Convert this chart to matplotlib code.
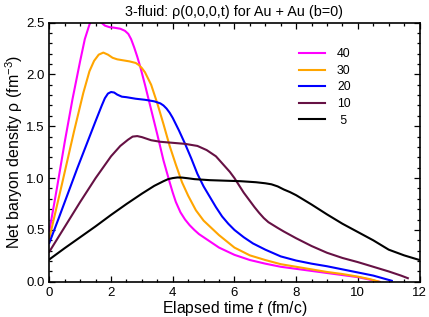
import matplotlib
matplotlib.use('Agg')
import matplotlib.pyplot as plt
from matplotlib.ticker import MultipleLocator

plt.rcParams['font.family'] = ['Liberation Sans', 'DejaVu Sans']
plt.rcParams['mathtext.fontset'] = 'custom'
plt.rcParams['mathtext.rm'] = 'Liberation Sans'
plt.rcParams['mathtext.it'] = 'Liberation Sans:italic'

# DATA
t_40 = [0, 0.25, 0.5, 0.75, 1.0, 1.15, 1.3, 1.42, 1.55, 1.68, 1.8, 1.95, 2.1,
        2.3, 2.45, 2.56, 2.65, 2.75, 2.85, 2.95, 3.1, 3.3, 3.5, 3.7, 3.9, 4.0,
        4.1, 4.25, 4.4, 4.55, 4.7, 4.85, 5.0, 5.5, 6.0, 6.5, 7.0, 7.5, 8.0, 8.5,
        9.0, 9.5, 10.0, 10.4, 10.7]
rho_40 = [0.49, 0.91, 1.35, 1.76, 2.13, 2.34, 2.48, 2.55, 2.56, 2.50, 2.47, 2.455,
          2.45, 2.44, 2.42, 2.39, 2.34, 2.26, 2.17, 2.07, 1.90, 1.66, 1.42, 1.17,
          0.96, 0.86, 0.77, 0.67, 0.60, 0.545, 0.50, 0.46, 0.43, 0.33, 0.26, 0.21,
          0.175, 0.145, 0.125, 0.105, 0.085, 0.065, 0.045, 0.02, 0.0]

t_30 = [0, 0.4, 0.8, 1.1, 1.3, 1.45, 1.6, 1.75, 1.9, 2.05, 2.2, 2.4, 2.6, 2.8,
        2.9, 3.0, 3.1, 3.2, 3.3, 3.5, 3.7, 3.9, 4.1, 4.3, 4.5, 4.75, 5.0, 5.25,
        5.5, 5.75, 6.0, 6.5, 7.0, 7.5, 8.0, 8.5, 9.0, 9.5, 10.0, 10.4, 10.7]
rho_30 = [0.42, 0.93, 1.45, 1.82, 2.03, 2.13, 2.19, 2.21, 2.19, 2.16, 2.145, 2.135,
          2.125, 2.11, 2.09, 2.06, 2.02, 1.96, 1.90, 1.72, 1.52, 1.31, 1.13, 0.96,
          0.83, 0.69, 0.59, 0.52, 0.45, 0.39, 0.33, 0.255, 0.21, 0.17, 0.145, 0.12,
          0.095, 0.075, 0.05, 0.025, 0.0]

t_20 = [0, 0.3, 0.6, 0.9, 1.2, 1.5, 1.7, 1.8, 1.9, 2.0, 2.1, 2.2, 2.35, 2.5,
        2.8, 3.1, 3.4, 3.6, 3.7, 3.8, 3.9, 4.0, 4.1, 4.2, 4.4, 4.6, 4.8, 5.0,
        5.2, 5.4, 5.6, 5.8, 6.0, 6.3, 6.6, 7.0, 7.5, 8.0, 8.5, 9.0, 9.5, 10.0,
        10.5, 10.8, 11.1]
rho_20 = [0.375, 0.61, 0.85, 1.09, 1.32, 1.55, 1.70, 1.77, 1.815, 1.83, 1.825,
          1.805, 1.785, 1.78, 1.765, 1.755, 1.74, 1.72, 1.70, 1.67, 1.63, 1.58,
          1.52, 1.46, 1.33, 1.19, 1.04, 0.92, 0.82, 0.72, 0.63, 0.56, 0.50, 0.43,
          0.37, 0.31, 0.245, 0.205, 0.175, 0.15, 0.12, 0.09, 0.06, 0.035, 0.01]

t_10 = [0, 0.5, 1.0, 1.5, 2.0, 2.3, 2.55, 2.7, 2.85, 3.0, 3.15, 3.3, 3.6, 4.0,
        4.4, 4.8, 4.95, 5.1, 5.25, 5.4, 5.55, 5.7, 5.85, 6.0, 6.15, 6.3, 6.5,
        6.65, 6.8, 6.95, 7.1, 7.4, 7.6, 8.0, 8.5, 9.0, 9.5, 10.0, 10.5, 11.0,
        11.4, 11.62]
rho_10 = [0.29, 0.53, 0.77, 1.00, 1.21, 1.31, 1.37, 1.40, 1.405, 1.395, 1.38,
          1.365, 1.35, 1.34, 1.33, 1.31, 1.29, 1.27, 1.24, 1.21, 1.16, 1.11,
          1.06, 1.00, 0.93, 0.86, 0.78, 0.72, 0.665, 0.615, 0.575, 0.52, 0.485,
          0.42, 0.345, 0.28, 0.23, 0.19, 0.145, 0.10, 0.06, 0.035]

t_5 = [0, 0.5, 1.0, 1.5, 2.0, 2.5, 3.0, 3.4, 3.7, 3.85, 4.0, 4.15, 4.3, 4.5,
       4.7, 5.2, 5.7, 6.2, 6.7, 7.0, 7.2, 7.4, 7.6, 7.8, 8.0, 8.25, 8.5, 9.0,
       9.5, 10.0, 10.5, 11.0, 11.5, 12.0]
rho_5 = [0.216, 0.325, 0.43, 0.535, 0.645, 0.75, 0.85, 0.925, 0.97, 0.99, 1.0,
         1.006, 1.005, 0.998, 0.99, 0.98, 0.975, 0.97, 0.96, 0.95, 0.94, 0.92,
         0.89, 0.865, 0.835, 0.79, 0.745, 0.65, 0.56, 0.48, 0.40, 0.31, 0.255,
         0.21]

SERIES = [
    ('40', t_40, rho_40, '#ff00ff'),
    ('30', t_30, rho_30, '#ffa500'),
    ('20', t_20, rho_20, '#0000ff'),
    ('10', t_10, rho_10, '#661144'),
    (' 5', t_5, rho_5, '#000000'),
]

fig = plt.figure(figsize=(4.29, 3.17), dpi=100)
ax = fig.add_axes([0.115, 0.111, 0.863, 0.818])

for label, t, rho, color in SERIES:
    ax.plot(t, rho, color=color, linewidth=1.5, label=label)

ax.set_xlim(0, 12)
ax.set_ylim(0, 2.5)
ax.xaxis.set_major_locator(MultipleLocator(2))
ax.xaxis.set_minor_locator(MultipleLocator(0.5))
ax.yaxis.set_major_locator(MultipleLocator(0.5))
ax.yaxis.set_minor_locator(MultipleLocator(0.1))
ax.yaxis.set_major_formatter(plt.FormatStrFormatter('%.1f'))

ax.tick_params(which='both', direction='in', top=True, right=True,
               labelsize=9.5, width=0.9)
ax.tick_params(which='major', length=4.2)
ax.tick_params(which='minor', length=2.4)
for sp in ax.spines.values():
    sp.set_linewidth(1.2)

ax.set_xlabel('Elapsed time $t$ (fm/c)', fontsize=11.3, labelpad=0.5)
ax.set_ylabel('Net baryon density ρ (fm$^{-3}$)', fontsize=11.5, labelpad=0.5)
ax.set_title('3-fluid: ρ(0,0,0,t) for Au + Au (b=0)', fontsize=10.4, pad=5)

ax.legend(loc='upper left', bbox_to_anchor=(0.674, 0.901), frameon=False,
          fontsize=8.8, handlelength=2.17, handletextpad=0.95,
          labelspacing=0.38, borderpad=0, borderaxespad=0)

fig.savefig('out.png', dpi=100)
